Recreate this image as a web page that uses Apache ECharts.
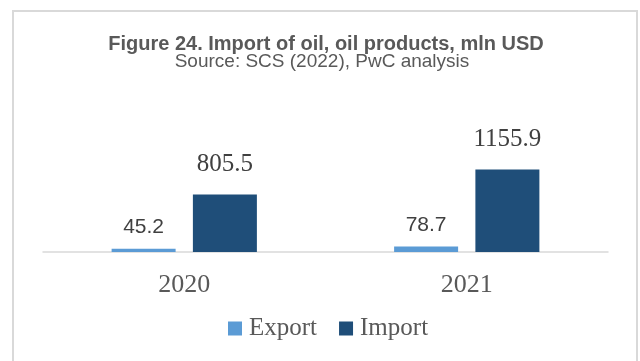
<!DOCTYPE html>
<html>
<head>
<meta charset="utf-8">
<script src="https://cdn.jsdelivr.net/npm/echarts@6/dist/echarts.min.js"></script>
<style>
  html, body { margin: 0; padding: 0; background: #fff; }
  #chart { width: 640px; height: 361px; }
</style>
</head>
<body>
<div id="chart"></div>
<script>
var years = ['2020', '2021'];
var exportVals = [45.2, 78.7];
var importVals = [805.5, 1155.9];
var titleText = 'Figure 24. Import of oil, oil products, mln USD';
var subText = 'Source: SCS (2022), PwC analysis';

var serif = '"Liberation Serif", "DejaVu Serif", serif';
var sans = '"Liberation Sans", Arial, sans-serif';

var chart = echarts.init(document.getElementById('chart'));

var option = {
    animation: false,
    graphic: [
        {
            // frame round the figure
            type: 'rect',
            z: -1,
            shape: { x: 13, y: 11, width: 624, height: 370 },
            style: { fill: 'none', stroke: '#d9d9d9', lineWidth: 2 }
        },
        {
            type: 'text',
            x: 326, y: 44,
            style: {
                text: titleText,
                fill: '#595959',
                font: 'bold 20px ' + sans,
                textAlign: 'center',
                textVerticalAlign: 'middle'
            }
        },
        {
            type: 'text',
            x: 322, y: 62,
            style: {
                text: subText,
                fill: '#595959',
                font: '19px ' + sans,
                textAlign: 'center',
                textVerticalAlign: 'middle'
            }
        }
    ],
    legend: {
        data: ['Export', 'Import'],
        left: 228,
        top: 316,
        padding: 0,
        itemWidth: 14,
        itemHeight: 14,
        itemGap: 22,
        icon: 'rect',
        textStyle: {
            fontFamily: serif,
            fontSize: 25,
            color: '#595959',
            padding: [0, 0, 0, 2]
        }
    },
    grid: {
        left: 43,
        right: 32,
        top: 145,
        bottom: 109
    },
    xAxis: {
        type: 'category',
        data: years,
        axisTick: { show: false },
        axisLine: { lineStyle: { color: '#d9d9d9', width: 1.5 } },
        axisLabel: {
            margin: 20,
            fontFamily: serif,
            fontSize: 26,
            color: '#595959'
        }
    },
    yAxis: {
        type: 'value',
        min: 0,
        max: 1500,
        show: false
    },
    series: [
        {
            name: 'Export',
            type: 'bar',
            data: exportVals,
            barWidth: 64,
            barGap: '27%',
            itemStyle: { color: '#5b9bd5' },
            label: {
                show: true,
                position: 'top',
                distance: 11,
                fontFamily: sans,
                fontSize: 21,
                color: '#404040'
            }
        },
        {
            name: 'Import',
            type: 'bar',
            data: importVals,
            barWidth: 64,
            itemStyle: { color: '#1f4e79' },
            label: {
                show: true,
                position: 'top',
                distance: 18,
                fontFamily: serif,
                fontSize: 25,
                color: '#404040'
            }
        }
    ]
};

chart.setOption(option);
</script>
</body>
</html>
